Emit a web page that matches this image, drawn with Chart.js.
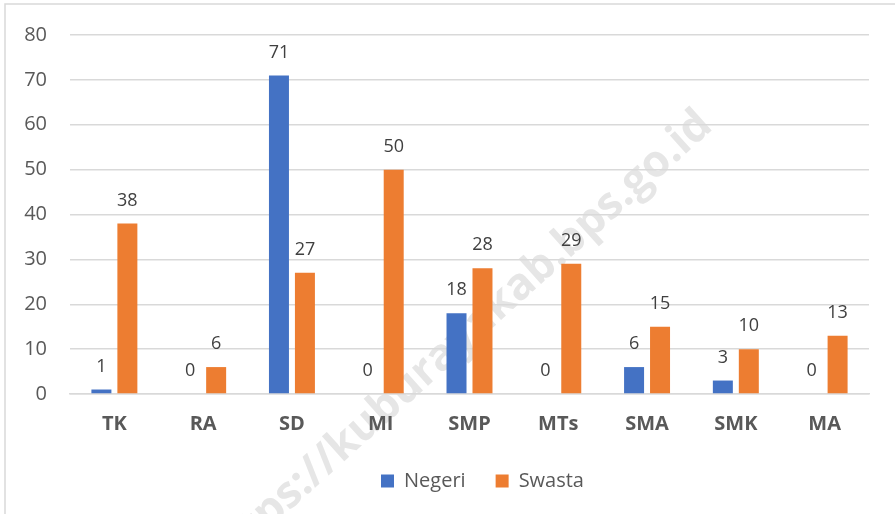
<!DOCTYPE html>
<html>
<head>
<meta charset="utf-8">
<script src="https://cdn.jsdelivr.net/npm/chart.js@4.4.0/dist/chart.umd.min.js"></script>
<style>
  body { margin: 0; background: #fff; }
  #wrap { width: 895px; height: 514px; }
</style>
</head>
<body>
<div id="wrap"><canvas id="myChart" width="895" height="514"></canvas></div>
<script>
const categories = ["TK", "RA", "SD", "MI", "SMP", "MTs", "SMA", "SMK", "MA"];
const negeri = [1, 0, 71, 0, 18, 0, 6, 3, 0];
const swasta = [38, 6, 27, 50, 28, 29, 15, 10, 13];
const yTicks = [0, 10, 20, 30, 40, 50, 60, 70, 80];

const ctx = document.getElementById("myChart").getContext("2d");

// frame + watermark behind everything
const background = {
  id: "background",
  beforeDraw(chart) {
    const c = chart.ctx;
    c.save();
    c.fillStyle = "#fff";
    c.fillRect(0, 0, chart.width, chart.height);
    c.strokeStyle = "#d9d9d9";
    c.lineWidth = 1.5;
    c.beginPath();
    c.moveTo(5, chart.height);
    c.lineTo(5, 4);
    c.lineTo(chart.width, 4);
    c.stroke();

    c.translate(458, 342);
    c.rotate(-42 * Math.PI / 180);
    c.font = "bold 44px 'Open Sans'";
    c.fillStyle = "#e6e6e6";
    c.textAlign = "center";
    c.textBaseline = "middle";
    c.fillText("https://kuburayakab.bps.go.id", 0, 0);
    c.restore();
  },
};

// legend sits a bit right of the canvas centre in the original
const legendShift = {
  id: "legendShift",
  afterLayout(chart) {
    chart.legend.left += 48;
    chart.legend.right += 48;
  },
};

// value labels above the bars
const valueLabels = {
  id: "valueLabels",
  afterDatasetsDraw(chart) {
    const c = chart.ctx;
    c.save();
    c.font = "18px 'Open Sans'";
    c.fillStyle = "#404040";
    c.textAlign = "center";
    c.textBaseline = "bottom";
    chart.data.datasets.forEach((ds, i) => {
      chart.getDatasetMeta(i).data.forEach((bar, j) => {
        c.fillText(String(ds.data[j]), bar.x, bar.y - 14);
      });
    });
    c.restore();
  },
};

new Chart(ctx, {
  type: "bar",
  data: {
    labels: categories,
    datasets: [
      {
        label: "Negeri",
        data: negeri,
        backgroundColor: "#4472C4",
        barPercentage: 0.77,
        categoryPercentage: 0.585,
      },
      {
        label: "Swasta",
        data: swasta,
        backgroundColor: "#ED7D31",
        barPercentage: 0.77,
        categoryPercentage: 0.585,
      },
    ],
  },
  options: {
    responsive: false,
    animation: false,
    layout: {
      padding: { top: 33, right: 26, bottom: 13, left: 0 },
    },
    plugins: {
      legend: {
        position: "bottom",
        labels: {
          color: "#595959",
          boxWidth: 13,
          boxHeight: 13,
          padding: 30,
          font: { family: "'Open Sans'", size: 20 },
        },
      },
      tooltip: { enabled: false },
    },
    scales: {
      x: {
        grid: { display: false, drawTicks: false },
        border: { display: true, color: "#d9d9d9", width: 1.5 },
        ticks: {
          color: "#595959",
          padding: 18,
          font: { family: "'Open Sans'", size: 20, weight: "bold" },
        },
        afterFit(scale) {
          scale.height = 47;
        },
      },
      y: {
        min: 0,
        max: 80,
        afterBuildTicks(scale) {
          scale.ticks = yTicks.map((v) => ({ value: v }));
        },
        grid: { color: "#d9d9d9", lineWidth: 1.5, drawTicks: false },
        border: { display: false },
        ticks: {
          color: "#595959",
          padding: 23,
          font: { family: "'Open Sans'", size: 20 },
        },
        afterFit(scale) {
          scale.width = 70;
        },
      },
    },
  },
  plugins: [background, legendShift, valueLabels],
});
</script>
</body>
</html>
